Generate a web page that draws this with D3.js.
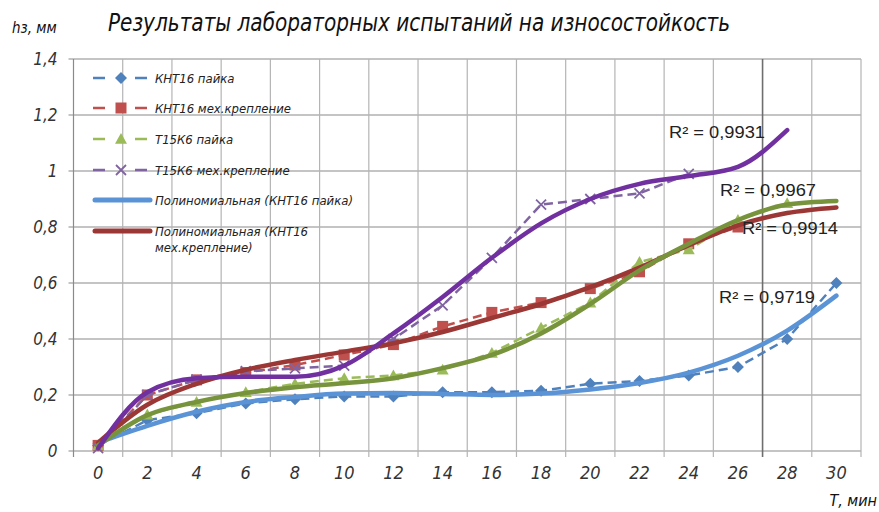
<!DOCTYPE html>
<html><head><meta charset="utf-8">
<script src="https://cdn.jsdelivr.net/npm/d3@7/dist/d3.min.js"></script>
<style>
html,body{margin:0;padding:0;background:#fff;}
svg{display:block;}
.ital{font-family:"DejaVu Sans Condensed","DejaVu Sans",sans-serif;font-style:italic;font-weight:200;}
</style></head>
<body><svg id="c" width="879" height="512"></svg>
<script>
const categories = [0,2,4,6,8,10,12,14,16,18,20,22,24,26,28,30];
const yTicks = [0,0.2,0.4,0.6,0.8,1.0,1.2,1.4];
const yTickLabels = ["0","0,2","0,4","0,6","0,8","1","1,2","1,4"];

// measured series (null = no point)
const kntSolder  = [0.02,0.11,0.135,0.17,0.185,0.195,0.195,0.21,0.21,0.215,0.24,0.25,0.27,0.30,0.40,0.60];
const kntMech    = [0.02,0.20,0.254,0.28,0.307,0.343,0.38,0.445,0.495,0.53,0.58,0.64,0.74,0.80,null,null];
const t15Solder  = [0.02,0.13,0.175,0.21,0.24,0.26,0.27,0.29,0.35,0.44,0.53,0.675,0.72,0.825,0.885,null];
const t15Mech    = [0.01,0.20,0.255,0.285,0.295,0.305,0.40,0.52,0.69,0.88,0.90,0.92,0.99,null,null,null];

// polynomial trend lines, read at each category
const trendKntSolder = [0.03,0.09,0.14,0.175,0.193,0.205,0.207,0.204,0.20,0.205,0.22,0.243,0.28,0.34,0.43,0.555];
const trendKntMech   = [0.03,0.165,0.24,0.29,0.325,0.355,0.385,0.425,0.475,0.525,0.585,0.655,0.735,0.806,0.85,0.87];
const trendT15Solder = [0.02,0.128,0.175,0.207,0.228,0.242,0.26,0.296,0.343,0.42,0.525,0.645,0.74,0.825,0.88,0.893];
const trendT15Mech   = [0.01,0.21,0.26,0.265,0.265,0.305,0.42,0.55,0.69,0.813,0.90,0.954,0.982,1.015,1.146];

const seriesNames = ["КНТ16 пайка","КНТ16 мех.крепление","Т15К6 пайка","Т15К6 мех.крепление"];
const trendNames = ["Полиномиальная (КНТ16 пайка)","Полиномиальная (КНТ16|мех.крепление)"];
const rLabels = ["R² = 0,9931","R² = 0,9967","R² = 0,9914","R² = 0,9719"];

const svg = d3.select("#c");
const L=73.5, R=861, T=59, B=451;
const x = d3.scaleBand().domain(categories).range([L,R]);
const cx = c => x(c) + x.bandwidth()/2;
const y = d3.scaleLinear().domain([0,1.4]).range([B,T]);

// grid
const g = svg.append("g");
g.selectAll("line.h").data(yTicks).join("line")
  .attr("x1",L-5).attr("x2",R).attr("y1",d=>y(d)).attr("y2",d=>y(d))
  .attr("stroke","#8a8a8a").attr("stroke-width",1.2);
const bounds = categories.map(c=>x(c)).concat([R]);
g.selectAll("line.v").data(bounds).join("line")
  .attr("x1",d=>d).attr("x2",d=>d).attr("y1",T).attr("y2",B+6)
  .attr("stroke",(d,i)=> i===14 ? "#6e6e6e" : (i===0 ? "#8a8a8a" : "#b4b4b4"))
  .attr("stroke-width",(d,i)=> i===14 ? 1.6 : 1.2);

// axes labels
const yAxis = d3.axisLeft(y).tickValues(yTicks).tickSize(0).tickPadding(16)
  .tickFormat((d,i)=>yTickLabels[i]);
const ya = svg.append("g").attr("transform",`translate(${L},0)`).call(yAxis);
ya.select(".domain").remove();
ya.selectAll("text").attr("class","ital").attr("font-size",17).attr("fill","#333").attr("dy","0.35em");

const xAxis = d3.axisBottom(x).tickSize(0).tickPadding(0);
const xa = svg.append("g").attr("transform",`translate(0,${B})`).call(xAxis);
xa.select(".domain").remove();
xa.selectAll("text").attr("class","ital").attr("font-size",18).attr("fill","#333").attr("dy",0).attr("y",28);

// series
const colors = ["#4F81BD","#C0504D","#9BBB59","#8064A2"];
const trendColors = ["#5A93D6","#9B3734","#77933C","#7030A0"];
const series = [kntSolder,kntMech,t15Solder,t15Mech];
const trends = [trendKntSolder,trendKntMech,trendT15Solder,trendT15Mech];

const line = d3.line().defined(d=>d[1]!=null).x(d=>cx(d[0])).y(d=>y(d[1]));
const curveLine = d3.line().x(d=>cx(d[0])).y(d=>y(d[1])).curve(d3.curveMonotoneX);

function marker(sel, type, color, size){
  if(type===0){ // diamond (rotated square)
    const s=size*0.6;
    sel.append("path").attr("d",`M0,${-s}L${s},0L0,${s}L${-s},0Z`).attr("fill",color);
  } else if(type===1){
    sel.append("rect").attr("x",-size/2).attr("y",-size/2).attr("width",size).attr("height",size).attr("fill",color);
  } else if(type===2){
    const s=size*0.6;
    sel.append("path").attr("d",`M0,${-s}L${s},${s*0.8}L${-s},${s*0.8}Z`).attr("fill",color);
  } else {
    const s=size/2;
    sel.append("path").attr("d",`M${-s},${-s}L${s},${s}M${-s},${s}L${s},${-s}`).attr("stroke",color).attr("stroke-width",1.8).attr("fill","none");
  }
}

series.forEach((vals,k)=>{
  const pts = categories.map((c,i)=>[c,vals[i]]);
  svg.append("path").datum(pts).attr("d",line).attr("fill","none")
    .attr("stroke",colors[k]).attr("stroke-width",2.5).attr("stroke-dasharray","9,5");
  pts.filter(p=>p[1]!=null).forEach(p=>{
    const m = svg.append("g").attr("transform",`translate(${cx(p[0])},${y(p[1])})`);
    marker(m,k,colors[k], k===1?11:10);
  });
});

trends.forEach((vals,k)=>{
  const pts = vals.map((v,i)=>[categories[i],v]);
  svg.append("path").datum(pts).attr("d",curveLine).attr("fill","none")
    .attr("stroke",trendColors[k]).attr("stroke-width",4.5).attr("stroke-linecap","round").attr("stroke-linejoin","round");
});

// R² labels
const rPos = [[669,138],[720,196],[742,234],[719,303]];
rLabels.forEach((t,i)=>{
  svg.append("text").attr("x",rPos[i][0]).attr("y",rPos[i][1])
    .attr("font-family","Liberation Sans, Arial, sans-serif").attr("font-size",16)
    .attr("fill","#222").attr("textLength",96).attr("lengthAdjust","spacingAndGlyphs").text(t);
});

// legend
const legY = [78,108,139,170,200,231];
seriesNames.forEach((n,k)=>{
  const yy = legY[k];
  svg.append("line").attr("x1",93).attr("x2",148).attr("y1",yy).attr("y2",yy)
    .attr("stroke",colors[k]).attr("stroke-width",2.5).attr("stroke-dasharray","12,30");
  const m = svg.append("g").attr("transform",`translate(121,${yy})`);
  marker(m,k,colors[k], k===1?11:10);
  svg.append("text").attr("class","ital").attr("x",155).attr("y",yy+4.5)
    .attr("font-size",13).attr("fill","#222").text(n);
});
trendNames.forEach((n,j)=>{
  const yy = legY[4+j];
  svg.append("line").attr("x1",95).attr("x2",150).attr("y1",yy).attr("y2",yy)
    .attr("stroke",trendColors[j]).attr("stroke-width",5).attr("stroke-linecap","round");
  const parts = n.split("|");
  parts.forEach((p,pi)=>{
    svg.append("text").attr("class","ital").attr("x",155).attr("y",yy+4.5+pi*16)
      .attr("font-size",13).attr("fill","#222").text(p);
  });
});

// titles
svg.append("text").attr("class","ital").attr("x",108).attr("y",31)
  .attr("font-size",25).attr("fill","#111").attr("textLength",622).attr("lengthAdjust","spacingAndGlyphs")
  .text("Результаты лабораторных испытаний на износостойкость");
svg.append("text").attr("class","ital").attr("x",12).attr("y",33)
  .attr("font-size",15).attr("font-weight",600).attr("fill","#111").text("hз, мм");
svg.append("text").attr("class","ital").attr("x",877).attr("y",506).attr("text-anchor","end")
  .attr("font-size",16).attr("fill","#111").text("Т, мин");
</script></body></html>
